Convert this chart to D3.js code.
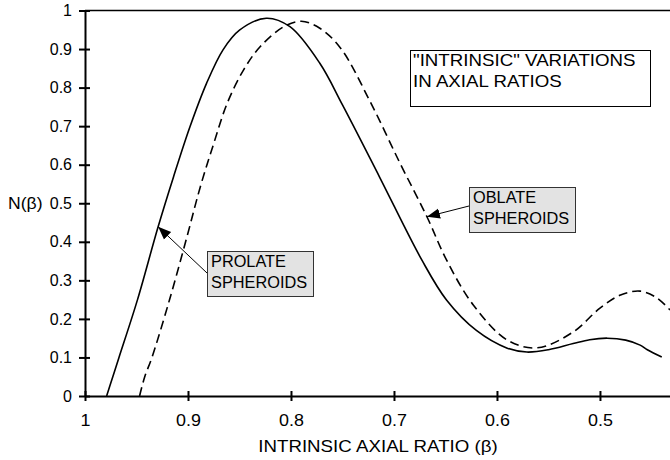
<!doctype html>
<html lang="en">
  <head>
    <meta charset="UTF-8" />
    <title>Intrinsic axial ratios</title>
    <style>
      body {
        margin: 0;
        background: #fff;
        overflow: hidden;
      }
      svg text {
        font-family: "Liberation Sans", Arial, sans-serif;
        font-size: 16px;
        fill: #000;
      }
    </style>
  </head>
  <body>
    <script src="https://d3js.org/d3.v7.min.js"></script>
    <script>
      // values
      const xTicks = [1, 0.9, 0.8, 0.7, 0.6, 0.5];
      const yTicks = [0, 0.1, 0.2, 0.3, 0.4, 0.5, 0.6, 0.7, 0.8, 0.9, 1];

      const prolateBeta = [0.979, 0.973, 0.967, 0.949, 0.929, 0.914, 0.898, 0.882, 0.866, 0.85, 0.824, 0.801, 0.772, 0.75, 0.714, 0.673, 0.649, 0.62, 0.59, 0.571, 0.55, 0.526, 0.51, 0.493, 0.475, 0.461, 0.454, 0.44];
      const prolateN = [0, 0.05, 0.1, 0.25, 0.439, 0.569, 0.699, 0.811, 0.898, 0.949, 0.98, 0.958, 0.863, 0.755, 0.568, 0.353, 0.249, 0.17, 0.124, 0.114, 0.12, 0.136, 0.146, 0.15, 0.145, 0.132, 0.12, 0.101];

      const oblateBeta = [0.947, 0.942, 0.935, 0.918, 0.901, 0.888, 0.875, 0.862, 0.846, 0.83, 0.807, 0.79, 0.772, 0.752, 0.723, 0.694, 0.668, 0.649, 0.623, 0.59, 0.561, 0.526, 0.5, 0.48, 0.461, 0.445, 0.432];
      const oblateN = [0, 0.05, 0.1, 0.249, 0.413, 0.543, 0.655, 0.759, 0.846, 0.906, 0.958, 0.972, 0.954, 0.903, 0.763, 0.603, 0.465, 0.353, 0.236, 0.145, 0.125, 0.166, 0.228, 0.262, 0.272, 0.255, 0.223];

      const width = 670;
      const height = 460;

      const svg = d3
        .select("body")
        .append("svg")
        .attr("width", width)
        .attr("height", height);

      const x = d3.scaleLinear().domain([1, 0.432]).range([85, 670]);
      const y = d3.scaleLinear().domain([0, 1]).range([396, 10.5]);

      svg
        .append("defs")
        .append("clipPath")
        .attr("id", "plot")
        .append("rect")
        .attr("x", 85)
        .attr("y", 0)
        .attr("width", 585)
        .attr("height", 400);

      svg
        .append("marker")
        .attr("id", "head")
        .attr("viewBox", "0 0 10 10")
        .attr("refX", 10)
        .attr("refY", 5)
        .attr("markerWidth", 13)
        .attr("markerHeight", 13)
        .attr("markerUnits", "userSpaceOnUse")
        .attr("orient", "auto")
        .append("path")
        .attr("d", "M0,1 L10,5 L0,9 Z")
        .attr("fill", "#000");

      // some of the source lettering is drawn a little wide
      function label(px, py, t, anchor, sx) {
        return svg
          .append("text")
          .attr("transform", `translate(${px},${py}) scale(${sx || 1},1)`)
          .attr("text-anchor", anchor || "start")
          .text(t);
      }

      // top frame line
      svg
        .append("line")
        .attr("x1", x(1))
        .attr("x2", x(0.432))
        .attr("y1", y(1))
        .attr("y2", y(1))
        .attr("stroke", "#000")
        .attr("stroke-width", 1.5);

      // axes
      const yAxis = svg
        .append("g")
        .attr("transform", `translate(${x(1)},0)`)
        .call(
          d3
            .axisLeft(y)
            .tickValues(yTicks)
            .tickFormat((d) => (d === 0 || d === 1 ? d3.format("d")(d) : d.toFixed(1)))
            .tickSizeOuter(0)
            .tickPadding(7),
        );
      yAxis.select(".domain").attr("stroke-width", 2);
      yAxis.selectAll(".tick line").attr("x1", 5).attr("x2", -6).attr("stroke-width", 2);
      yAxis.selectAll(".tick text").style("font-size", "16px");

      const xAxis = svg
        .append("g")
        .attr("transform", `translate(0,${y(0)})`)
        .call(
          d3
            .axisBottom(x)
            .tickValues(xTicks)
            .tickFormat((d) => (d === 1 ? "1" : d.toFixed(1)))
            .tickSizeOuter(0)
            .tickPadding(13),
        );
      xAxis.select(".domain").attr("stroke-width", 2);
      xAxis.selectAll(".tick line").attr("y1", -5).attr("y2", 5).attr("stroke-width", 2);
      xAxis
        .selectAll(".tick text")
        .attr("transform", "scale(1.12,1)")
        .style("font-size", "16px");

      // axis titles
      label(378, 452, "INTRINSIC AXIAL RATIO (β)", "middle", 1.17);
      label(8, 209, "N(β)", "start", 1.1);

      // curves
      const line = d3
        .line()
        .x((d) => x(d[0]))
        .y((d) => y(d[1]))
        .curve(d3.curveCatmullRom.alpha(0.5));

      const curves = svg.append("g").attr("clip-path", "url(#plot)");
      curves
        .append("path")
        .attr("d", line(d3.zip(prolateBeta, prolateN)))
        .attr("fill", "none")
        .attr("stroke", "#000")
        .attr("stroke-width", 1.6);
      curves
        .append("path")
        .attr("d", line(d3.zip(oblateBeta, oblateN)))
        .attr("fill", "none")
        .attr("stroke", "#000")
        .attr("stroke-width", 1.6)
        .attr("stroke-dasharray", "9,5");

      // title box
      svg.append("rect").attr("x", 410.5).attr("y", 50.5).attr("width", 240).attr("height", 56).attr("fill", "#fff").attr("stroke", "#000").attr("stroke-width", 1);
      label(413, 66, '"INTRINSIC" VARIATIONS', "start", 1.17);
      label(413, 87, "IN AXIAL RATIOS", "start", 1.17);

      // callouts
      function callout(bx, by, bw, bh, lines, fromX, fromY, tipBeta, tipN) {
        svg
          .append("line")
          .attr("x1", fromX)
          .attr("y1", fromY)
          .attr("x2", x(tipBeta))
          .attr("y2", y(tipN))
          .attr("stroke", "#000")
          .attr("stroke-width", 1)
          .attr("marker-end", "url(#head)");
        svg.append("rect").attr("x", bx + 0.5).attr("y", by + 0.5).attr("width", bw).attr("height", bh).attr("fill", "#e3e3e3").attr("stroke", "#333").attr("stroke-width", 1);
        lines.forEach((t, i) => {
          label(bx + 4, by + 16 + i * 20.5, t, "start", 1.02);
        });
      }

      callout(207, 251, 106, 45, ["PROLATE", "SPHEROIDS"], 207, 273, 0.929, 0.439);
      callout(469, 187, 106, 45, ["OBLATE", "SPHEROIDS"], 469, 206, 0.668, 0.465);
    </script>
  </body>
</html>
